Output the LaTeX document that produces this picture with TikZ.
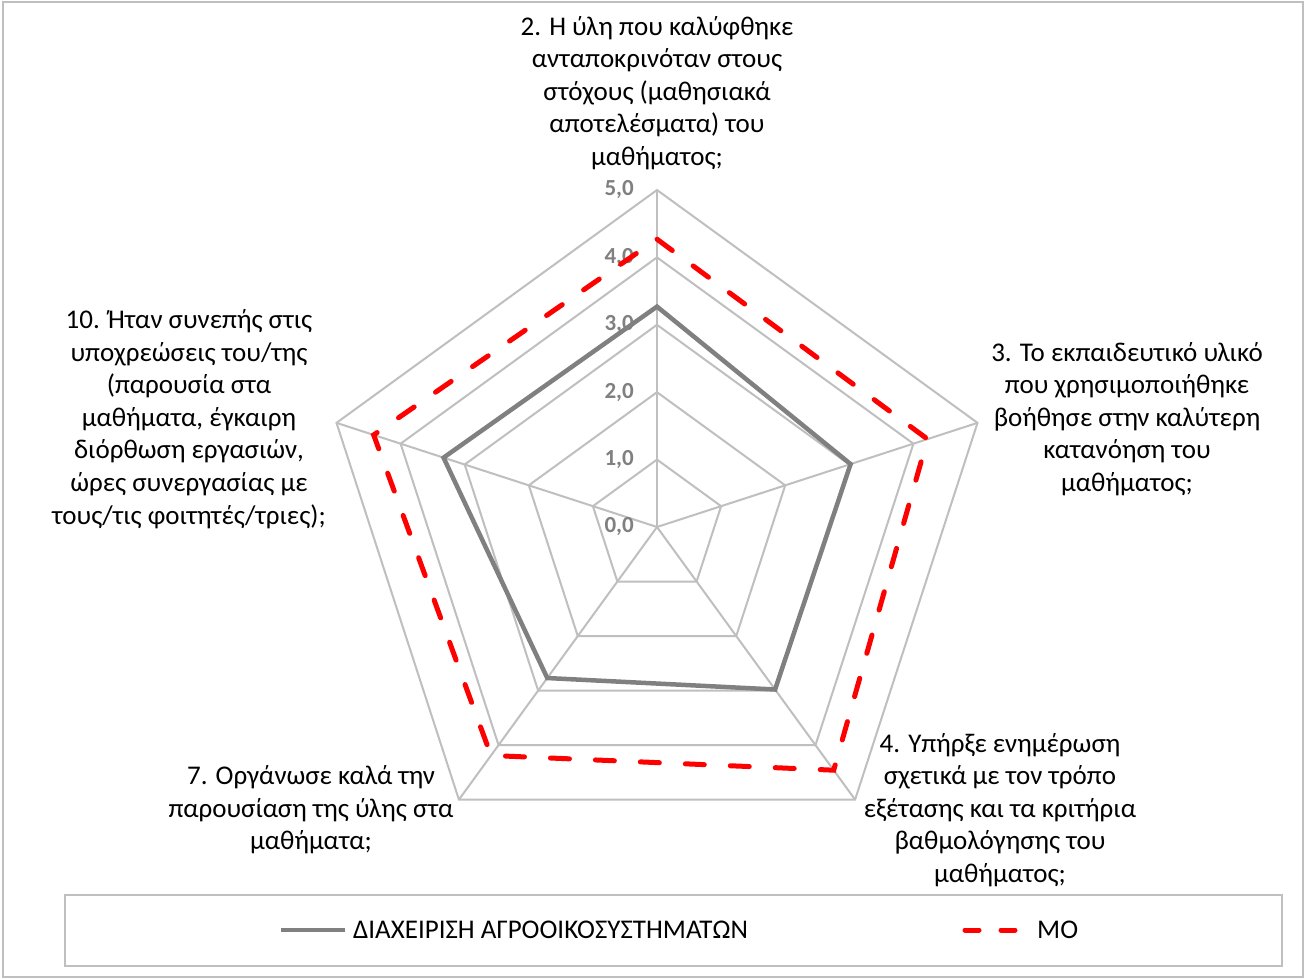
\documentclass[tikz,border=0pt]{standalone}
\usepackage{fontspec}
\setmainfont{Carlito}
\usetikzlibrary{calc}
\definecolor{gridc}{HTML}{BFBFBF}
\definecolor{serc}{HTML}{808080}
\definecolor{moc}{HTML}{FF0000}
\tikzset{
  gridline/.style={draw=gridc, line width=2pt},
  greyline/.style={draw=serc, line width=4.5pt, line join=miter},
  redline/.style={draw=moc, line width=5pt, line cap=round, dash pattern=on 19pt off 26pt},
  axlabel/.style={align=center, font=\fontsize{27}{32.6}\selectfont, text=black, inner sep=0pt},
  scalelabel/.style={anchor=east, font=\fontsize{23}{26}\selectfont\bfseries, text=serc, inner sep=0pt},
}
\begin{document}
\begin{tikzpicture}[x=1pt,y=1pt]
\useasboundingbox (0,0) rectangle (1306,978);
\fill[white] (0,0) rectangle (1306,978);
\draw[draw=gridc, line width=1.2pt] (3,1) rectangle (1303,976);
\def\u{67.4}
\coordinate (C) at (657,451);
% grid rings
\foreach \r in {1,...,5}{
  \draw[gridline] ($(C)+(90:\r*\u)$) -- ($(C)+(18:\r*\u)$) -- ($(C)+(-54:\r*\u)$) -- ($(C)+(-126:\r*\u)$) -- ($(C)+(162:\r*\u)$) -- cycle;
}
% spokes
\foreach \a in {90,18,-54,-126,162}{
  \draw[gridline] (C) -- ($(C)+(\a:5*\u)$);
}
% scale labels
\foreach \k/\t in {0/{0,0},1/{1,0},2/{2,0},3/{3,0},4/{4,0},5/{5,0}}{
  \node[scalelabel] (s\k) at (634,{451+\k*\u}) {\t};
}
% grey series
\draw[greyline] ($(C)+(90:3.27*\u)$) -- ($(C)+(18:3.02*\u)$) -- ($(C)+(-54:2.98*\u)$) -- ($(C)+(-126:2.77*\u)$) -- ($(C)+(162:3.33*\u)$) -- cycle;
% red series
\draw[redline] ($(C)+(90:4.27*\u)$) -- ($(C)+(18:4.22*\u)$) -- ($(C)+(-54:4.46*\u)$) -- ($(C)+(-126:4.19*\u)$) -- ($(C)+(162:4.42*\u)$) -- cycle;
% axis labels
\node[axlabel] (l2) at (657,{978-93}) {2. Η ύλη που καλύφθηκε\\ανταποκρινόταν στους\\στόχους (μαθησιακά\\αποτελέσματα) του\\μαθήματος;};
\node[axlabel] (l3) at (1127,{978-419}) {3. Το εκπαιδευτικό υλικό\\που χρησιμοποιήθηκε\\βοήθησε στην καλύτερη\\κατανόηση του\\μαθήματος;};
\node[axlabel] (l4) at (1000,{978-810}) {4. Υπήρξε ενημέρωση\\σχετικά με τον τρόπο\\εξέτασης και τα κριτήρια\\βαθμολόγησης του\\μαθήματος;};
\node[axlabel] (l7) at (311,{978-810}) {7. Οργάνωσε καλά την\\παρουσίαση της ύλης στα\\μαθήματα;};
\node[axlabel] (l10) at (189,{978-419}) {10. Ήταν συνεπής στις\\υποχρεώσεις του/της\\(παρουσία στα\\μαθήματα, έγκαιρη\\διόρθωση εργασιών,\\ώρες συνεργασίας με\\τους/τις φοιτητές/τριες);};
% legend
\draw[draw=gridc, line width=1.2pt] (65,{978-895}) rectangle (1282,{978-966});
\coordinate (g1) at (281,{978-930});
\coordinate (g2) at (345,{978-930});
\draw[draw=serc, line width=4.5pt] (g1) -- (g2);
\node[anchor=west, font=\fontsize{27}{30}\selectfont, inner sep=0pt] (lg1) at (353,{978-930}) {ΔΙΑΧΕΙΡΙΣΗ ΑΓΡΟΟΙΚΟΣΥΣΤΗΜΑΤΩΝ};
\coordinate (r1) at (965,{978-930});
\coordinate (r2) at (1029,{978-930});
\draw[draw=moc, line width=5pt, line cap=round, dash pattern=on 14pt off 22pt] (r1) -- (r2);
\node[anchor=west, font=\fontsize{27}{30}\selectfont, inner sep=0pt] (lg2) at (1037,{978-930}) {ΜΟ};
\end{tikzpicture}
\end{document}
